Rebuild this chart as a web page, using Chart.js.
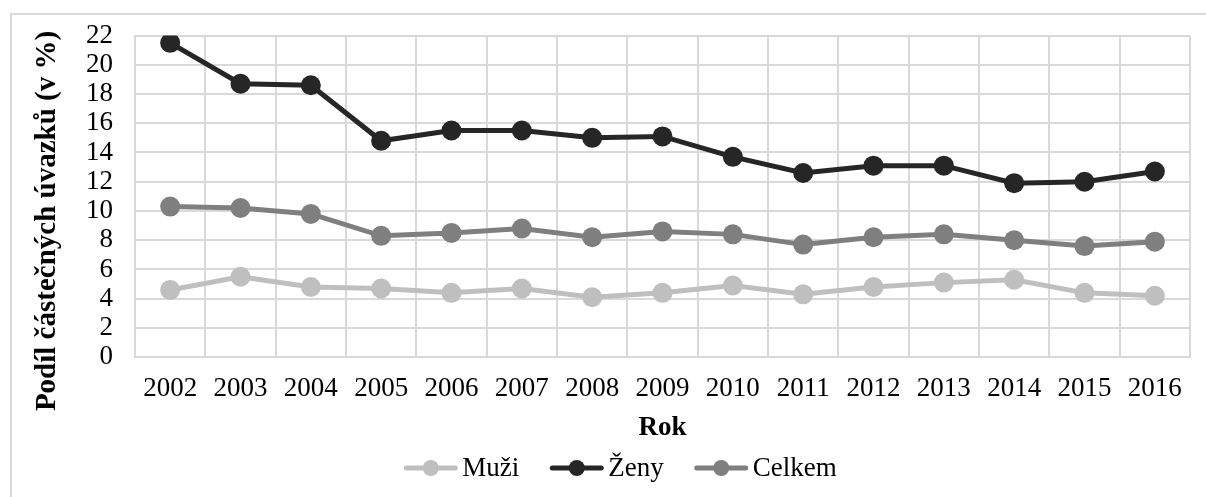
<!DOCTYPE html>
<html>
<head>
<meta charset="utf-8">
<script src="https://cdn.jsdelivr.net/npm/chart.js@4"></script>
<style>
  html, body { margin: 0; padding: 0; background: #fff; }
  #wrap { position: relative; width: 1206px; height: 497px; overflow: hidden; }
  #frame { position: absolute; left: 10px; top: 13px; width: 1220px; height: 520px; border: 2px solid #d9d9d9; box-sizing: border-box; }
  #chart { position: absolute; left: 0; top: 0; }
</style>
</head>
<body>
<div id="wrap">
  <div id="frame"></div>
  <canvas id="chart" width="1206" height="497"></canvas>
</div>
<script>
// data
const years = ["2002", "2003", "2004", "2005", "2006", "2007", "2008", "2009", "2010", "2011", "2012", "2013", "2014", "2015", "2016"];
const muzi = [4.6, 5.5, 4.8, 4.7, 4.4, 4.7, 4.1, 4.4, 4.9, 4.3, 4.8, 5.1, 5.3, 4.4, 4.2];
const zeny = [21.5, 18.7, 18.6, 14.8, 15.5, 15.5, 15.0, 15.1, 13.7, 12.6, 13.1, 13.1, 11.9, 12.0, 12.7];
const celkem = [10.3, 10.2, 9.8, 8.3, 8.5, 8.8, 8.2, 8.6, 8.4, 7.7, 8.2, 8.4, 8.0, 7.6, 7.9];

const seriesNames = ["Muži", "Ženy", "Celkem"];
const seriesColors = ["#bfbfbf", "#262626", "#7f7f7f"];

const FONT = "'Liberation Serif', 'Times New Roman', serif";
const yTitle = "Podíl částečných úvazků (v %)";

function makeSet(label, data, color) {
  return {
    label: label,
    data: data,
    borderColor: color,
    backgroundColor: color,
    borderWidth: 5,
    pointRadius: 10,
    pointBorderWidth: 0,
    pointBackgroundColor: color,
    tension: 0
  };
}

// Excel-like legend (line + dot) and the long y title, drawn on the chart canvas
const extras = {
  id: "extras",
  afterDraw(chart) {
    const c = chart.ctx;
    c.save();

    // y axis title
    c.font = "bold 29px " + FONT;
    c.fillStyle = "#000";
    c.textAlign = "center";
    c.textBaseline = "middle";
    c.translate(48, 221);
    c.rotate(-Math.PI / 2);
    c.fillText(yTitle, 0, 0);
    c.setTransform(1, 0, 0, 1, 0, 0);

    // legend
    c.font = "27px " + FONT;
    const markerW = 55, textGap = 4, itemGap = 30;
    const widths = chart.data.datasets.map(ds => c.measureText(ds.label).width);
    let total = itemGap * (widths.length - 1);
    widths.forEach(w => { total += markerW + textGap + w; });
    let x = 620 - total / 2;
    const y = 468;
    chart.data.datasets.forEach((ds, i) => {
      c.strokeStyle = ds.borderColor;
      c.fillStyle = ds.borderColor;
      c.lineWidth = 5;
      c.lineCap = "round";
      c.beginPath();
      c.moveTo(x + 3, y);
      c.lineTo(x + markerW - 3, y);
      c.stroke();
      c.beginPath();
      c.arc(x + markerW / 2, y, 8, 0, Math.PI * 2);
      c.fill();
      c.fillStyle = "#000";
      c.textAlign = "left";
      c.fillText(ds.label, x + markerW + textGap, y + 1);
      x += markerW + textGap + widths[i] + itemGap;
    });
    c.restore();
  }
};

const ctx = document.getElementById("chart").getContext("2d");
new Chart(ctx, {
  type: "line",
  data: {
    labels: years,
    datasets: [
      makeSet(seriesNames[0], muzi, seriesColors[0]),
      makeSet(seriesNames[1], zeny, seriesColors[1]),
      makeSet(seriesNames[2], celkem, seriesColors[2])
    ]
  },
  options: {
    responsive: false,
    animation: false,
    layout: { padding: { top: 11, right: 16, bottom: 53, left: 64 } },
    scales: {
      x: {
        offset: true,
        grid: { offset: true, color: "#d9d9d9", lineWidth: 2, drawTicks: false },
        border: { color: "#d9d9d9", width: 2 },
        ticks: { color: "#000", font: { family: FONT, size: 27 }, padding: 16, maxRotation: 0, autoSkip: false },
        title: { display: true, text: "Rok", color: "#000", font: { family: FONT, size: 27, weight: "bold" }, padding: { top: -10, bottom: 0 } }
      },
      y: {
        min: 0,
        max: 22,
        grid: { color: "#d9d9d9", lineWidth: 2, drawTicks: false },
        border: { color: "#d9d9d9", width: 2 },
        ticks: { stepSize: 2, color: "#000", font: { family: FONT, size: 27, lineHeight: 1 }, padding: 22, autoSkip: false }
      }
    },
    plugins: {
      legend: { display: false },
      tooltip: { enabled: false }
    }
  },
  plugins: [extras]
});
</script>
</body>
</html>
